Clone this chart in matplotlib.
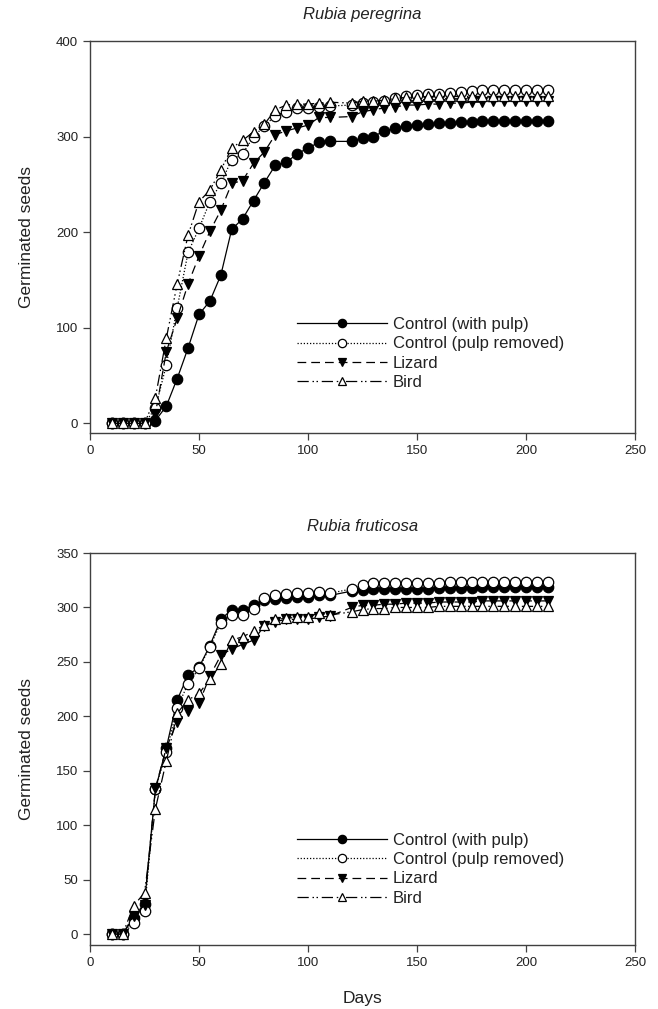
import matplotlib
matplotlib.use("Agg")
import matplotlib.pyplot as plt

plt.rcParams['font.family'] = ['Liberation Sans', 'DejaVu Sans']

days = [10, 15, 20, 25, 30, 35, 40, 45, 50, 55, 60, 65, 70, 75, 80, 85, 90, 95, 100, 105, 110,
        120, 125, 130, 135, 140, 145, 150, 155, 160, 165, 170, 175, 180, 185, 190, 195, 200, 205, 210]

# Rubia peregrina
per_ctrl_pulp = [0, 0, 0, 0, 3, 18, 47, 79, 114, 128, 155, 203, 214, 233, 252, 270, 273, 282, 288, 294, 295,
                 295, 299, 300, 306, 309, 311, 312, 313, 314, 314, 315, 315, 316, 316, 316, 316, 316, 316, 316]
per_ctrl_removed = [0, 0, 0, 0, 16, 61, 121, 179, 204, 232, 251, 276, 282, 300, 311, 322, 326, 330, 330, 331, 332,
                    333, 335, 336, 337, 340, 342, 343, 345, 345, 346, 347, 348, 349, 349, 349, 349, 349, 349, 349]
per_lizard = [0, 0, 0, 0, 10, 75, 110, 146, 175, 201, 223, 251, 254, 272, 284, 302, 306, 309, 312, 320, 320,
              321, 326, 328, 330, 331, 333, 333, 334, 334, 335, 335, 336, 336, 337, 337, 337, 337, 337, 337]
per_bird = [0, 0, 0, 0, 27, 89, 146, 197, 232, 244, 265, 288, 296, 305, 313, 328, 333, 334, 334, 335, 336,
            335, 337, 337, 338, 340, 341, 341, 342, 342, 342, 342, 342, 342, 342, 342, 342, 342, 342, 342]

# Rubia fruticosa
fru_ctrl_pulp = [0, 0, 15, 28, 133, 171, 215, 238, 245, 265, 289, 298, 298, 302, 307, 308, 309, 310, 310, 311, 311,
                 315, 316, 317, 317, 317, 317, 317, 317, 318, 318, 318, 318, 319, 319, 319, 319, 319, 319, 319]
fru_ctrl_removed = [0, 0, 10, 21, 133, 167, 208, 230, 244, 264, 286, 293, 293, 299, 309, 311, 312, 313, 313, 314, 313,
                    317, 321, 322, 322, 322, 322, 322, 322, 322, 323, 323, 323, 323, 323, 323, 323, 323, 323, 323]
fru_lizard = [0, 0, 17, 27, 134, 171, 195, 205, 212, 237, 256, 262, 266, 270, 283, 287, 289, 289, 289, 291, 292,
              300, 302, 302, 303, 303, 304, 304, 304, 305, 305, 305, 305, 306, 306, 306, 306, 306, 306, 306]
fru_bird = [0, 0, 26, 38, 115, 159, 203, 215, 221, 234, 248, 270, 273, 278, 284, 289, 290, 291, 291, 295, 293,
            296, 298, 299, 299, 300, 300, 300, 300, 301, 301, 301, 301, 301, 301, 301, 301, 301, 301, 301]

labels = ["Control (with pulp)", "Control (pulp removed)", "Lizard", "Bird"]
titles = ["Rubia peregrina", "Rubia fruticosa"]

fig = plt.figure(figsize=(6.58, 10.09), dpi=100)
L, W, H = 90/658, 545/658, 392/1009
ax1 = fig.add_axes([L, 1 - 433/1009, W, H])
ax2 = fig.add_axes([L, 1 - 945/1009, W, H])

spine_col = '#404040'
text_col = '#222222'
ms = 7.5

styles = [
    dict(linestyle='-', marker='o', mfc='black', mec='black'),
    dict(linestyle=(0, (1, 1.5)), marker='o', mfc='white', mec='black'),
    dict(linestyle=(0, (7, 4)), marker='v', mfc='black', mec='black'),
    dict(linestyle=(0, (9, 3, 1.2, 2, 1.2, 3)), marker='^', mfc='white', mec='black'),
]

def draw(ax, series, title, ymax, yticks, leg_y):
    for s, st, lab in zip(series, styles, labels):
        ax.plot(days, s, color='black', lw=0.9, ms=ms, mew=0.9, label=lab, **st)
    ax.set_xlim(0, 250)
    ax.set_ylim(-10, ymax)
    ax.set_xticks([0, 50, 100, 150, 200, 250])
    ax.set_yticks(yticks)
    ax.tick_params(direction='out', length=5, width=0.9, colors=spine_col,
                   labelcolor=text_col, labelsize=9.5)
    for sp in ax.spines.values():
        sp.set_color(spine_col)
        sp.set_linewidth(1.0)
    ax.set_title(title, style='italic', fontsize=12, pad=16, color=text_col)
    ax.set_ylabel("Germinated seeds", fontsize=12.5, color=text_col, labelpad=16)
    ax.legend(loc='center left', bbox_to_anchor=(0.38, leg_y), frameon=False,
              fontsize=12, handlelength=5.4, handletextpad=0.35, labelspacing=0.25,
              borderpad=0, borderaxespad=0, markerscale=0.8, labelcolor=text_col)

draw(ax1, [per_ctrl_pulp, per_ctrl_removed, per_lizard, per_bird], titles[0],
     400, [0, 100, 200, 300, 400], 0.203)
draw(ax2, [fru_ctrl_pulp, fru_ctrl_removed, fru_lizard, fru_bird], titles[1],
     350, [0, 50, 100, 150, 200, 250, 300, 350], 0.193)
ax2.set_xlabel("Days", fontsize=12.5, color=text_col, labelpad=16)

fig.savefig("out.png", dpi=100)
